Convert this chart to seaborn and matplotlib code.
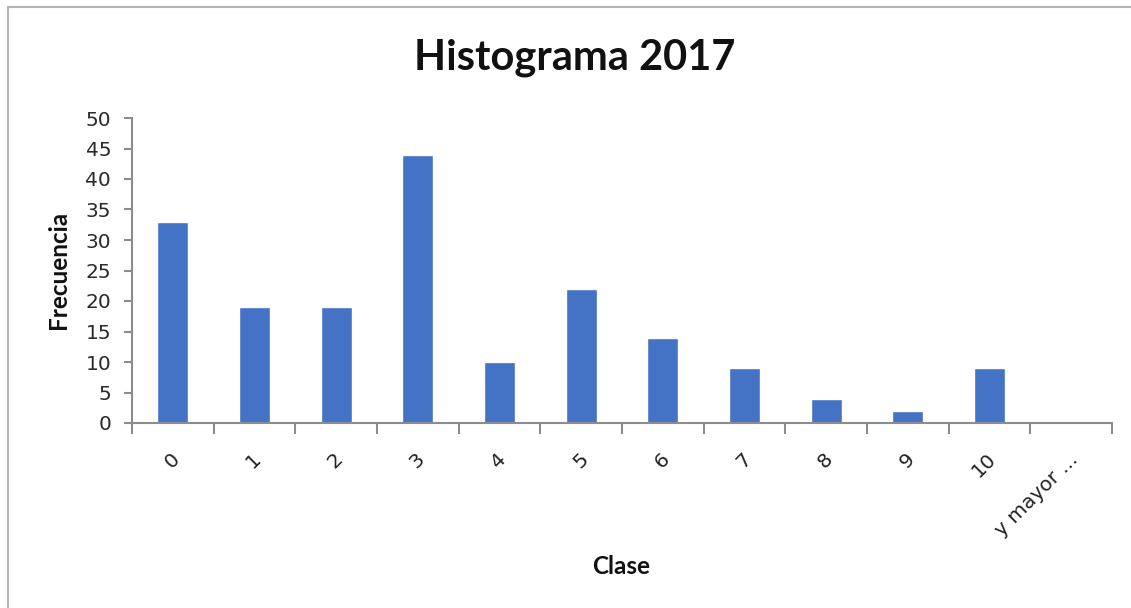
import matplotlib
matplotlib.use("Agg")
import matplotlib.pyplot as plt
import matplotlib.transforms as mtransforms
from matplotlib.lines import Line2D
from matplotlib.ticker import FixedLocator
import seaborn as sns
import pandas as pd

clases = ["0", "1", "2", "3", "4", "5", "6", "7", "8", "9", "10", "y mayor ..."]
frecuencia = [33, 19, 19, 44, 10, 22, 14, 9, 4, 2, 9, 0]
y_ticks = list(range(0, 51, 5))

sns.set_theme(style="white")
plt.rcParams['font.family'] = ['DejaVu Sans']

W, H = 1131, 608
fig = plt.figure(figsize=(W / 100, H / 100), dpi=100)
ax = fig.add_axes([132 / W, 1 - 423 / H, (1112 - 132) / W, (423 - 118) / H])

df = pd.DataFrame({"Clase": clases, "Frecuencia": frecuencia})
sns.barplot(data=df, x="Clase", y="Frecuencia", order=clases, color="#4472C4",
            saturation=1, width=0.38, ax=ax)

ax.set_xlim(-0.5, len(clases) - 0.5)
ax.set_ylim(0, 50)
ax.set_yticks(y_ticks)
ax.set_yticklabels([str(v) for v in y_ticks], fontsize=14.5, color="#2a2a2a",
                   family=["DejaVu Sans"])

for s in ["top", "right"]:
    ax.spines[s].set_visible(False)
for s in ["left", "bottom"]:
    ax.spines[s].set_color("#8c8c8c")
    ax.spines[s].set_linewidth(1.5)

ax.tick_params(axis="y", which="major", left=True, length=6, width=1.5,
               color="#8c8c8c", pad=9)
ax.xaxis.set_minor_locator(FixedLocator([i - 0.5 for i in range(len(clases) + 1)]))
ax.tick_params(axis="x", which="minor", bottom=True, length=8, width=1.5,
               color="#8c8c8c")
ax.tick_params(axis="x", which="major", bottom=True, length=0, pad=24)
ax.set_xticks(range(len(clases)))
ax.set_xticklabels(clases, rotation=45, ha="right", va="center",
                   rotation_mode="anchor", fontsize=14.5, color="#222222",
                   family=["DejaVu Sans"])
offset = mtransforms.ScaledTranslation(4 / 100, 0, fig.dpi_scale_trans)
for lbl in ax.get_xticklabels():
    lbl.set_transform(lbl.get_transform() + offset)

ax.set_xlabel("")
ax.set_ylabel("")
ax.grid(False)

fig.text(575 / W, 1 - 58 / H, "Histograma 2017", ha="center", va="center",
         fontsize=30, fontweight="bold", family=["Lato", "DejaVu Sans"], color="#111111")
fig.text(59 / W, 1 - 270 / H, "Frecuencia", ha="center", va="center", rotation=90,
         fontsize=17.5, fontweight="bold", family=["Lato", "DejaVu Sans"], color="#111111")
fig.text(621 / W, 1 - 567 / H, "Clase", ha="center", va="center",
         fontsize=17.5, fontweight="bold", family=["Lato", "DejaVu Sans"], color="#111111")

fig.add_artist(Line2D([8 / W, 1], [1 - 7 / H, 1 - 7 / H], transform=fig.transFigure,
                      color="#b4b4b4", linewidth=1.5))
fig.add_artist(Line2D([8 / W, 8 / W], [0, 1 - 7 / H], transform=fig.transFigure,
                      color="#b4b4b4", linewidth=1.5))

fig.savefig("out.png", dpi=100)
